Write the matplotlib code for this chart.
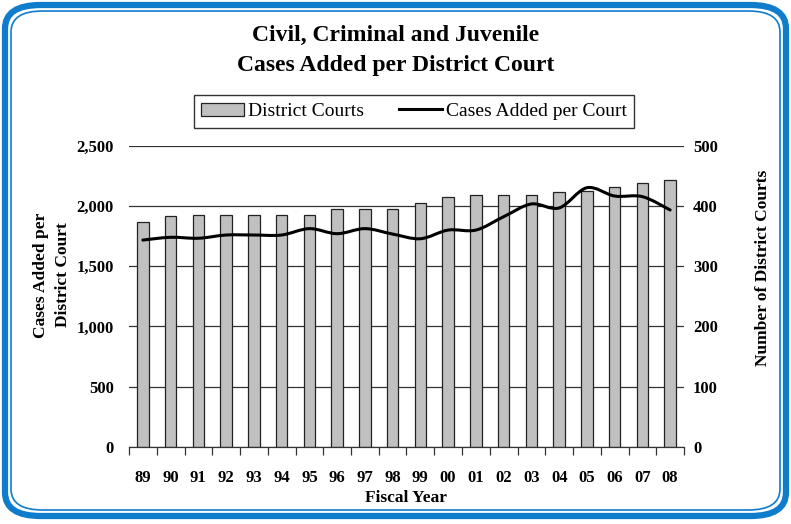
import matplotlib
matplotlib.use("Agg")
import matplotlib.pyplot as plt
from matplotlib.patches import FancyBboxPatch, Patch
from matplotlib.lines import Line2D
from matplotlib.path import Path
from matplotlib.patches import PathPatch
import numpy as np

plt.rcParams['font.family'] = ['Liberation Serif', 'DejaVu Serif']

years = ['89', '90', '91', '92', '93', '94', '95', '96', '97', '98',
         '99', '00', '01', '02', '03', '04', '05', '06', '07', '08']
district_courts = [374, 383, 386, 386, 386, 386, 386, 395, 395, 395,
                   405, 415, 419, 419, 419, 423, 426, 432, 438, 444]
cases_per_court = [1718, 1741, 1733, 1760, 1760, 1760, 1813, 1771, 1813, 1768,
                   1729, 1801, 1801, 1912, 2018, 1985, 2153, 2084, 2079, 1968]

fig = plt.figure(figsize=(7.91, 5.24), dpi=100)

# blue rounded frame
outer = FancyBboxPatch((5 / 791, 8 / 524), 781 / 791, 511 / 524,
                       boxstyle="round,pad=0,rounding_size=0.045",
                       transform=fig.transFigure, fill=False,
                       edgecolor='#0f7ccc', linewidth=4.5)
inner = FancyBboxPatch((11 / 791, 14 / 524), 769 / 791, 499 / 524,
                       boxstyle="round,pad=0,rounding_size=0.04",
                       transform=fig.transFigure, fill=False,
                       edgecolor='#0f7ccc', linewidth=1.2)
fig.patches.extend([outer, inner])

ax2 = fig.add_axes([129 / 791, 1 - 446.7 / 524, 555 / 791, 300.7 / 524])
ax = ax2.twinx()
ax.yaxis.tick_left()
ax2.yaxis.tick_right()
ax.set_zorder(ax2.get_zorder() + 1)
ax.patch.set_visible(False)

x = np.arange(len(years))

# bars (right axis) with grid behind
ax2.set_axisbelow(True)
ax2.yaxis.grid(True, color='#333333', linewidth=0.9)
ax2.bar(x, district_courts, width=0.42, color='#c0c0c0',
        edgecolor='#222222', linewidth=0.9)
ax2.set_ylim(0, 500)
ax2.set_yticks(np.arange(0, 501, 100))
ax2.set_xlim(-0.5, len(years) - 0.5)

# smoothed line (left axis)
pts = np.column_stack([x, cases_per_court]).astype(float)
ext = np.vstack([pts[0], pts, pts[-1]])
verts = [tuple(pts[0])]
codes = [Path.MOVETO]
for i in range(len(pts) - 1):
    p0, p1, p2, p3 = ext[i], ext[i + 1], ext[i + 2], ext[i + 3]
    c1 = p1 + (p2 - p0) / 6
    c2 = p2 - (p3 - p1) / 6
    verts += [tuple(c1), tuple(c2), tuple(p2)]
    codes += [Path.CURVE4] * 3
ax.add_patch(PathPatch(Path(verts, codes), fill=False, edgecolor='black',
                       linewidth=2.2, capstyle='round', joinstyle='round'))
ax.set_ylim(0, 2500)
ax.set_yticks(np.arange(0, 2501, 500))
ax.set_yticklabels([f'{v:,}' for v in range(0, 2501, 500)])

for a in (ax, ax2):
    for s in ('top', 'left', 'right'):
        a.spines[s].set_visible(False)
    a.spines['bottom'].set_color('#333333')

ax.tick_params(axis='y', length=0, pad=11, labelsize=12)
ax2.tick_params(axis='y', length=0, pad=6.5, labelsize=12)
for lab in ax.get_yticklabels() + ax2.get_yticklabels():
    lab.set_fontweight('bold')

ax2.set_xticks(x)
ax2.set_xticklabels(years, fontsize=12, fontweight='bold')
ax2.set_xticks(np.arange(-0.5, len(years), 1), minor=True)
ax2.tick_params(axis='x', which='major', length=0, pad=17)
ax2.tick_params(axis='x', which='minor', length=6, width=0.9, color='#333333')

fig.text(0.5, 1 - 35 / 524, 'Civil, Criminal and Juvenile', ha='center',
         va='center', fontsize=17, fontweight='bold')
fig.text(0.5, 1 - 66 / 524, 'Cases Added per District Court', ha='center',
         va='center', fontsize=17, fontweight='bold')
fig.text(406 / 791, 1 - 498 / 524, 'Fiscal Year', ha='center', va='center',
         fontsize=12.5, fontweight='bold')
fig.text(52 / 791, 1 - 275 / 524, 'Cases Added per\nDistrict Court', ha='center',
         va='center', rotation=90, fontsize=12.5, fontweight='bold',
         linespacing=1.5)
fig.text(763 / 791, 1 - 268 / 524, 'Number of District Courts', ha='center',
         va='center', rotation=90, fontsize=12.5, fontweight='bold')

handles = [Patch(facecolor='#c0c0c0', edgecolor='#222222', linewidth=0.9),
           Line2D([0], [0], color='black', linewidth=2.2)]
leg = fig.legend(handles, ['District Courts', 'Cases Added per Court'],
                 loc='center', bbox_to_anchor=(414 / 791, 1 - 111.5 / 524),
                 ncol=2, fontsize=14, frameon=True, fancybox=False,
                 edgecolor='black', handlelength=2.2, handletextpad=0.2,
                 columnspacing=1.8, borderpad=0.4)
leg.get_frame().set_linewidth(1.0)

fig.savefig('out.png', dpi=100)
